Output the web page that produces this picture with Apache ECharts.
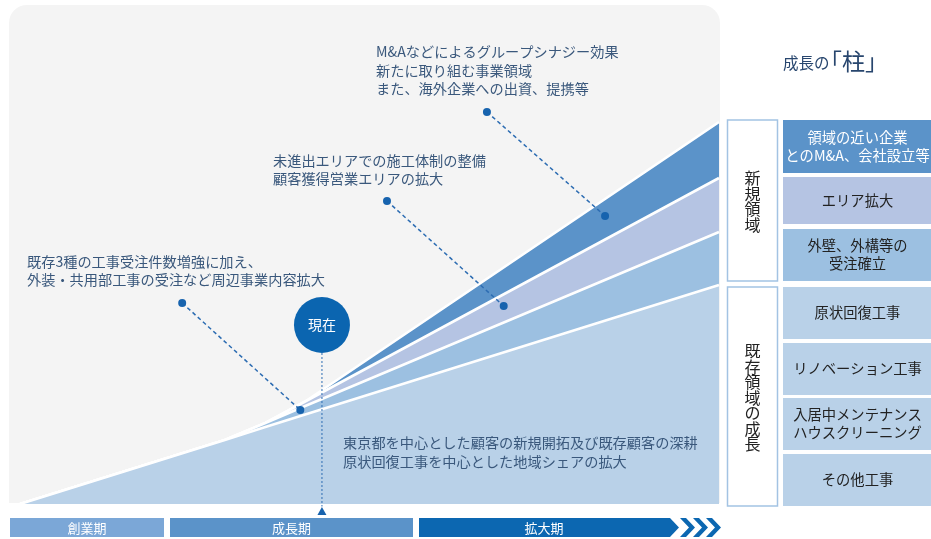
<!DOCTYPE html>
<html><head><meta charset="utf-8">
<script src="https://cdn.jsdelivr.net/npm/echarts@6/dist/echarts.min.js"></script>
<style>html,body{margin:0;padding:0;background:#fff}#c{width:931px;height:539px}</style>
</head><body><div id="c"></div>
<script>
// ---- data (x: time progress 0-100, y: business size) ----
const stageX        = [0, 29.3, 35.1, 40.8, 100];
const baseArea      = [0, 12.8, 15.4, 17.9, 43.8];   // 既存領域（原状回復等）
const peripheral    = [0, 0,    0.8,  1.7,  10.6];   // 外壁・外構等
const areaExpansion = [0, 0,    0,    0.9,  10.8];   // エリア拡大
const synergy       = [0, 0,    0,    0,    11.2];   // M&A等

const layerNames  = ['既存領域', '外壁・外構', 'エリア拡大', 'M&A'];
const layerColors = ['#b9d1e8', '#9cc0e1', '#b5c4e3', '#5b93c9'];

const nowPoint = [43.2, 35.8];
const nowLine  = [[43.2, 30.2], [43.2, -0.5]];
const nowArrow = [[43.2, -1.4]];
const leaders = [
  [[66.8, 78.4], [83.7, 57.6]],
  [[52.5, 60.6], [69.2, 39.6]],
  [[23.2, 40.2], [40.1, 18.8]]
];
const notes = [
  'M&Aなどによるグループシナジー効果\n新たに取り組む事業領域\nまた、海外企業への出資、提携等',
  '未進出エリアでの施工体制の整備\n顧客獲得営業エリアの拡大',
  '既存3種の工事受注件数増強に加え、\n外装・共用部工事の受注など周辺事業内容拡大',
  '東京都を中心とした顧客の新規開拓及び既存顧客の深耕\n原状回復工事を中心とした地域シェアの拡大'
];
const newPillars = ['領域の近い企業\nとのM&A、会社設立等', 'エリア拡大', '外壁、外構等の\n受注確立'];
const existingPillars = ['原状回復工事', 'リノベーション工事', '入居中メンテナンス\nハウスクリーニング', 'その他工事'];
const groupLabels = ['新規領域', '既存領域の成長'];
const phases = ['創業期', '成長期', '拡大期'];

const FONT = '"Noto Sans CJK JP", "Noto Sans", sans-serif';
const chart = echarts.init(document.getElementById('c'), null, {renderer: 'canvas'});

// cumulative totals (stacked manually, painter order: lower layers drawn on top)
const layers = [baseArea, peripheral, areaExpansion, synergy];
const cumulative = [];
layers.forEach((arr, i) => {
  cumulative.push(arr.map((v, j) => v + (i ? cumulative[i - 1][j] : 0)));
});
const series = layers.map((arr, i) => ({
  name: layerNames[i], type: 'line',
  data: stageX.map((x, j) => [x, cumulative[i][j]]),
  symbol: 'none', silent: true, z: 10 - i,
  lineStyle: {color: '#ffffff', width: 2.6},
  areaStyle: {color: layerColors[i], opacity: 1, origin: 'start'}
}));

leaders.forEach(l => series.push({
  type: 'line', data: l, symbol: 'circle', symbolSize: 8, showAllSymbol: true, silent: true, z: 20,
  itemStyle: {color: '#1763ae'},
  lineStyle: {color: '#2c6cb2', width: 1.5, type: [4, 3]}
}));
series.push({
  type: 'line', data: nowLine, symbol: 'none', clip: false, silent: true, z: 20,
  lineStyle: {color: '#2c6cb2', width: 1, type: [2, 2]}
});
series.push({
  type: 'scatter', data: nowArrow, symbol: 'triangle', symbolSize: [9, 8], clip: false, silent: true, z: 20,
  itemStyle: {color: '#1763ae', opacity: 1}
});
series.push({
  type: 'scatter', data: [nowPoint], symbolSize: 56, silent: true, z: 21,
  itemStyle: {color: '#0b65b0', opacity: 1},
  label: {show: true, position: 'inside', formatter: '現在', color: '#fff', fontSize: 14, fontFamily: FONT}
});

const g = [];
// background panel
g.push({type: 'rect', z: -10, shape: {x: 9, y: 5, width: 711, height: 498, r: [18, 18, 0, 0]}, style: {fill: '#f4f4f4'}});
// notes
const notePos = [[376, 70.5, 18.5], [273, 169.5, 17.5], [27, 271, 18], [343, 452.5, 19]];
notes.forEach((t, i) => g.push({
  type: 'text', z: 30, style: {text: t, x: notePos[i][0], y: notePos[i][1], fill: '#3a587c',
    font: '14.2px ' + FONT, lineHeight: notePos[i][2], align: 'left', verticalAlign: 'middle'}
}));
// title
g.push({type: 'text', z: 30, style: {text: '成長の', x: 783, y: 63, fill: '#28466e', font: '15.5px ' + FONT, align: 'left', verticalAlign: 'middle'}});
g.push({type: 'text', z: 30, style: {text: '「柱」', x: 819, y: 61, fill: '#28466e', font: '23px ' + FONT, align: 'left', verticalAlign: 'middle'}});
// group boxes
const groupBoxes = [[120, 281], [287, 506]];
groupBoxes.forEach((b, i) => {
  g.push({type: 'rect', z: 5, shape: {x: 727.5, y: b[0], width: 50, height: b[1] - b[0]}, style: {fill: '#fff', stroke: '#a3c3e3', lineWidth: 1.5}});
  g.push({type: 'text', z: 30, style: {text: groupLabels[i].split('').join('\n'), x: 752.5, y: (b[0] + b[1]) / 2 + 1,
    fill: '#222', font: '16px ' + FONT, lineHeight: 15.5, align: 'center', verticalAlign: 'middle'}});
});
// pillar boxes
const pillarRows = [[120, 173], [177, 224], [229, 281], [287, 339], [343, 395], [398, 450], [454, 506]];
const pillarColors = ['#5b93c9', '#b5c4e3', '#9cc0e1', '#b9d1e8', '#b9d1e8', '#b9d1e8', '#b9d1e8'];
const pillarTexts = newPillars.concat(existingPillars);
pillarRows.forEach((r, i) => {
  g.push({type: 'rect', z: 5, shape: {x: 783, y: r[0], width: 150, height: r[1] - r[0]}, style: {fill: pillarColors[i]}});
  g.push({type: 'text', z: 30, style: {text: pillarTexts[i], x: 857.5, y: (r[0] + r[1]) / 2,
    fill: i === 0 ? '#fff' : '#222', font: '14.3px ' + FONT, lineHeight: 18, align: 'center', verticalAlign: 'middle'}});
});
// phase bar
const phaseSpans = [[10, 164], [170, 413], [419, 679]];
const phaseColors = ['#7ba7d7', '#5b93c9', '#0c67b1'];
phaseSpans.forEach((s, i) => {
  if (i < 2) {
    g.push({type: 'rect', z: 5, shape: {x: s[0], y: 518, width: s[1] - s[0], height: 19}, style: {fill: phaseColors[i]}});
  } else {
    g.push({type: 'polygon', z: 5, shape: {points: [[s[0], 518], [s[1] - 9, 518], [s[1], 527.5], [s[1] - 9, 537], [s[0], 537]]}, style: {fill: phaseColors[i]}});
    [0, 1, 2].forEach(k => {
      const x = s[1] + 1 + k * 13;
      g.push({type: 'polygon', z: 5, shape: {points: [[x, 518], [x + 6, 518], [x + 15, 527.5], [x + 6, 537], [x, 537], [x + 9, 527.5]]}, style: {fill: phaseColors[i]}});
    });
  }
  g.push({type: 'text', z: 30, style: {text: phases[i], x: (s[0] + s[1]) / 2 - (i === 2 ? 5 : 0), y: 528, fill: '#fff',
    font: '13px ' + FONT, align: 'center', verticalAlign: 'middle'}});
});

chart.setOption({
  animation: false,
  grid: {left: 20, right: 212, top: 4, bottom: 35},
  xAxis: {type: 'value', min: 0, max: 100, show: false},
  yAxis: {type: 'value', min: 0, max: 100, show: false},
  series: series,
  graphic: {elements: g}
});
</script></body></html>
